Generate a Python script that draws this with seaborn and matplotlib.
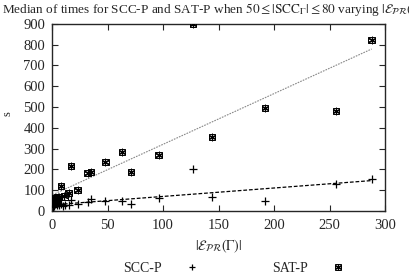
import numpy as np
import pandas as pd
import matplotlib
matplotlib.use("Agg")
import matplotlib.pyplot as plt
from matplotlib.legend_handler import HandlerTuple
from matplotlib.lines import Line2D
import seaborn as sns

# |E_PR(Gamma)| values and median times
sat_x = [0.5, 1, 1.5, 2, 2.5, 3, 4, 5, 6, 8, 11, 15, 17, 23, 32, 35, 48, 63, 71, 96, 127, 144, 192, 256, 288]
sat_y = [35, 45, 40, 55, 50, 60, 45, 65, 67, 120, 70, 87, 217, 101, 183, 188, 236, 284, 188, 270, 900, 356, 496, 481, 823]

scc_x = [0.5, 1, 1.5, 2, 3, 4, 5, 6, 8, 10, 12, 15, 17, 23, 32, 35, 48, 63, 71, 96, 127, 144, 192, 256, 288]
scc_y = [20, 25, 30, 22, 35, 28, 40, 30, 35, 25, 30, 28, 53, 34, 43, 58, 48, 48, 34, 63, 202, 67, 48, 130, 154]

x_ticks = [0, 50, 100, 150, 200, 250, 300]
y_ticks = [0, 100, 200, 300, 400, 500, 600, 700, 800, 900]

sat = pd.DataFrame({"x": sat_x, "y": sat_y})
scc = pd.DataFrame({"x": scc_x, "y": scc_y})

sns.set_style("ticks")
plt.rcParams["font.family"] = ["Liberation Serif", "DejaVu Serif"]
plt.rcParams["mathtext.fontset"] = "stix"
plt.rcParams["xtick.direction"] = "in"
plt.rcParams["ytick.direction"] = "in"

fig = plt.figure(figsize=(4.10, 2.78), dpi=100)
ax = fig.add_axes([0.127, 0.241, 0.812, 0.673])

# fitted lines
sns.regplot(data=sat, x="x", y="y", ci=None, scatter=False, ax=ax,
            line_kws=dict(color="#888888", lw=0.8, ls=(0, (1.5, 1))))
sns.regplot(data=scc, x="x", y="y", ci=None, scatter=False, ax=ax,
            line_kws=dict(color="black", lw=0.9, ls=(0, (3, 1.5))))

# points
sns.scatterplot(data=scc, x="x", y="y", marker="+", color="black", s=28,
                linewidth=0.9, ax=ax, zorder=4)
sns.scatterplot(data=sat, x="x", y="y", marker="s", facecolor="none",
                edgecolor="black", s=22, linewidth=0.7, ax=ax, zorder=4)
sns.scatterplot(data=sat, x="x", y="y", marker=(6, 2, 0), color="black", s=22,
                linewidth=0.9, ax=ax, zorder=5)

ax.set_xlim(0, 300)
ax.set_ylim(0, 900)
ax.set_xticks(x_ticks)
ax.set_yticks(y_ticks)
ax.tick_params(labelsize=10.5, top=True, right=True, length=4, width=0.8)
ax.tick_params(axis="x", pad=6)
ax.tick_params(axis="y", pad=5)
for sp in ax.spines.values():
    sp.set_linewidth(1.0)
ax.set_xlabel(r"$|\mathcal{E}_{\mathcal{P}\mathcal{R}}(\Gamma)|$", fontsize=10, labelpad=4)
ax.set_ylabel("")

fig.text(0.005, 0.995,
         r"Median of times for SCC-P and SAT-P when $50 \leq |\mathrm{SCC}_{\Gamma}| \leq 80$ varying $|\mathcal{E}_{\mathcal{P}\mathcal{R}}(\Gamma)|$",
         ha="left", va="top", fontsize=9.5)
fig.text(0.004, 0.59, "s", rotation=90, ha="left", va="center", fontsize=9)

h_scc = Line2D([], [], marker="+", color="black", ls="none", markersize=5, mew=0.9)
h_box = Line2D([], [], marker="s", mfc="none", mec="black", ls="none", markersize=4.5, mew=0.7)
h_star = Line2D([], [], marker=(6, 2, 0), color="black", ls="none", markersize=4.5, mew=0.9)
fig.legend([h_scc, (h_box, h_star)], ["SCC-P", "SAT-P"], ncol=2, markerfirst=False,
           frameon=False, loc="center", bbox_to_anchor=(0.575, 0.035), fontsize=10,
           handler_map={tuple: HandlerTuple(ndivide=1, pad=0)},
           columnspacing=5.0, handletextpad=1.4, handlelength=1.5)

fig.savefig("out.png", dpi=100)
